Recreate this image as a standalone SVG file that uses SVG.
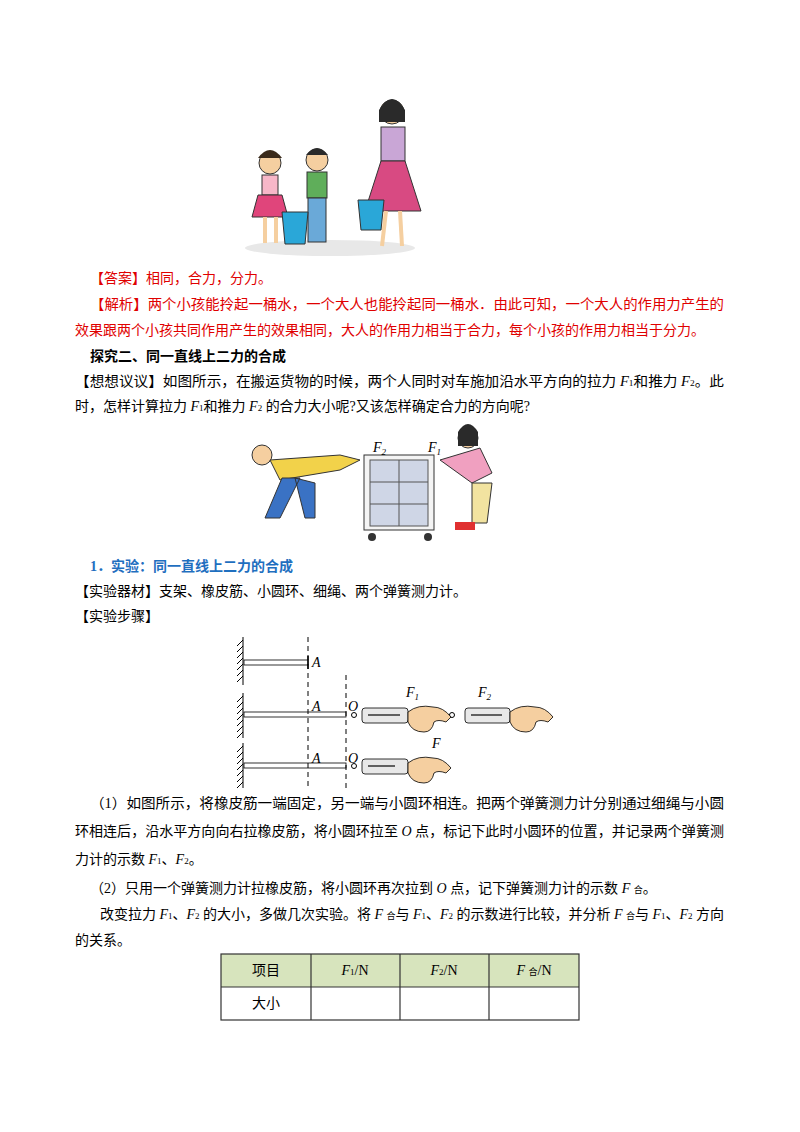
<svg xmlns="http://www.w3.org/2000/svg" width="800" height="1132" viewBox="0 0 800 1132">
<style>
.t{font-family:"Liberation Serif","Noto Sans CJK SC",serif;font-size:14px;fill:#000}
.r{fill:#e00000}
.b{font-weight:bold}
.bl{fill:#1f6fbf;font-weight:bold}
.i{font-style:italic}
.ln{stroke:#000;stroke-width:1;fill:none}
.d{stroke:#000;stroke-width:1;stroke-dasharray:5,4}
.h{stroke:#000;stroke-width:1}
.sc{fill:#e8e8e8;stroke:#000;stroke-width:0.8}
.hand{fill:#f5cfa0;stroke:#000;stroke-width:0.8}
.tb{stroke:#333;stroke-width:1.2;fill:none}
</style>
<rect width="800" height="1132" fill="#fff"/>
<g id="picture-people">
<ellipse cx="330" cy="248" rx="85" ry="8" fill="#e8e8e8"/>
<circle cx="270" cy="163" r="11" fill="#f5cfa0" stroke="#333"/>
<path d="M258 158 q12 -16 24 0" fill="#3a2a1a"/>
<rect x="262" y="175" width="16" height="20" fill="#f7b7c8" stroke="#333"/>
<path d="M258 195 h24 l6 22 h-36z" fill="#e0457b" stroke="#333"/>
<line x1="265" y1="217" x2="265" y2="243" stroke="#f5cfa0" stroke-width="4"/>
<line x1="276" y1="217" x2="276" y2="243" stroke="#f5cfa0" stroke-width="4"/>
<circle cx="317" cy="160" r="11" fill="#f5cfa0" stroke="#333"/>
<path d="M306 155 q11 -14 22 0" fill="#2a2a2a"/>
<rect x="307" y="172" width="20" height="26" fill="#5fae5a" stroke="#333"/>
<rect x="308" y="198" width="18" height="44" fill="#6aa9d8" stroke="#333"/>
<path d="M282 212 h26 l-3 32 h-20z" fill="#2aa7d8" stroke="#333"/>
<circle cx="392" cy="112" r="12" fill="#f5cfa0" stroke="#333"/>
<path d="M379 110 q13 -22 26 0 v12 h-26z" fill="#2a2a2a"/>
<rect x="381" y="127" width="24" height="34" fill="#c9a6d6" stroke="#333"/>
<path d="M381 161 h24 l16 50 h-56z" fill="#d84a82" stroke="#333"/>
<line x1="386" y1="211" x2="382" y2="246" stroke="#f5cfa0" stroke-width="4"/>
<line x1="400" y1="211" x2="402" y2="246" stroke="#f5cfa0" stroke-width="4"/>
<path d="M358 200 h26 l-3 30 h-20z" fill="#2aa7d8" stroke="#333"/>
</g>
<g id="text-top">
<text class="t r" x="90" y="283">【答案】相同，合力，分力。</text>
<text class="t r" x="90" y="309" textLength="634" lengthAdjust="spacingAndGlyphs">【解析】两个小孩能拎起一桶水，一个大人也能拎起同一桶水．由此可知，一个大人的作用力产生的</text>
<text class="t r" x="75" y="335">效果跟两个小孩共同作用产生的效果相同，大人的作用力相当于合力，每个小孩的作用力相当于分力。</text>
<text class="t b" x="90" y="361">探究二、同一直线上二力的合成</text>
<text class="t" x="75" y="386" textLength="649" lengthAdjust="spacingAndGlyphs">【想想议议】如图所示，在搬运货物的时候，两个人同时对车施加沿水平方向的拉力 <tspan class="i">F</tspan><tspan font-size="9">1</tspan>和推力 <tspan class="i">F</tspan><tspan font-size="9">2</tspan>。此</text>
<text class="t" x="75" y="411">时，怎样计算拉力 <tspan class="i">F</tspan><tspan font-size="9">1</tspan>和推力 <tspan class="i">F</tspan><tspan font-size="9">2</tspan> 的合力大小呢?又该怎样确定合力的方向呢?</text>
</g>
<g id="picture-cart">
<rect x="364" y="455" width="70" height="75" fill="#f4f4f4" stroke="#333"/>
<rect x="370" y="460" width="58" height="66" fill="#cfd6e6" stroke="#555"/>
<line x1="370" y1="482" x2="428" y2="482" stroke="#555"/><line x1="370" y1="504" x2="428" y2="504" stroke="#555"/>
<line x1="399" y1="460" x2="399" y2="526" stroke="#555"/>
<circle cx="372" cy="537" r="4" fill="#333"/><circle cx="428" cy="537" r="4" fill="#333"/>
<text class="t i" x="373" y="452">F<tspan font-size="9" dy="3">2</tspan></text>
<text class="t i" x="428" y="452">F<tspan font-size="9" dy="3">1</tspan></text>
<circle cx="262" cy="455" r="10" fill="#f5cfa0" stroke="#333"/>
<path d="M270 460 l70 -5 l20 5 l-20 10 l-60 10z" fill="#f2d24a" stroke="#333"/>
<path d="M282 478 l18 0 l-20 40 l-15 0z M295 478 l20 5 l0 35 l-10 0z" fill="#3a72c4" stroke="#333"/>
<circle cx="468" cy="438" r="10" fill="#f5cfa0" stroke="#333"/>
<path d="M458 432 q10 -16 20 0 v14 h-20z" fill="#2a2a2a"/>
<path d="M440 460 l40 -12 l12 25 l-20 10z" fill="#f0a0c0" stroke="#333"/>
<path d="M472 483 l20 0 l-5 40 l-15 0z" fill="#f2e3a0" stroke="#333"/>
<rect x="455" y="522" width="20" height="8" fill="#e03030"/>
</g>
<g id="text-mid">
<text class="t bl" x="90" y="571" font-family="Liberation Sans,Noto Sans CJK SC,sans-serif">1．实验：同一直线上二力的合成</text>
<text class="t" x="75" y="596">【实验器材】支架、橡皮筋、小圆环、细绳、两个弹簧测力计。</text>
<text class="t" x="75" y="621">【实验步骤】</text>
</g>
<g id="experiment">
<g class="h">
<line x1="243" y1="637" x2="243" y2="685"/><line x1="243" y1="693" x2="243" y2="738"/><line x1="243" y1="743" x2="243" y2="788"/>
<path d="M243 640 l-6 6 M243 646 l-6 6 M243 652 l-6 6 M243 658 l-6 6 M243 664 l-6 6 M243 670 l-6 6 M243 676 l-6 6 M243 696 l-6 6 M243 702 l-6 6 M243 708 l-6 6 M243 714 l-6 6 M243 720 l-6 6 M243 726 l-6 6 M243 732 l-6 6 M243 746 l-6 6 M243 752 l-6 6 M243 758 l-6 6 M243 764 l-6 6 M243 770 l-6 6 M243 776 l-6 6 M243 782 l-6 6"/>
</g>
<rect x="244" y="660" width="64" height="5" fill="#fff" stroke="#000" stroke-width="0.8"/>
<line x1="308" y1="656" x2="308" y2="669" stroke="#000" stroke-width="1.5"/>
<rect x="244" y="712" width="102" height="5" fill="#fff" stroke="#000" stroke-width="0.8"/>
<rect x="244" y="763" width="102" height="5" fill="#fff" stroke="#000" stroke-width="0.8"/>
<line class="d" x1="308" y1="637" x2="308" y2="790"/>
<line class="d" x1="346" y1="675" x2="346" y2="790"/>
<text class="t i" x="312" y="667">A</text><text class="t i" x="312" y="711">A</text><text class="t i" x="312" y="763">A</text>
<text class="t i" x="348" y="711">O</text><text class="t i" x="348" y="763">O</text>
<text class="t i" x="406" y="697">F<tspan font-size="9" dy="3">1</tspan></text>
<text class="t i" x="478" y="697">F<tspan font-size="9" dy="3">2</tspan></text>
<text class="t i" x="432" y="748">F</text>
<circle cx="354" cy="715" r="2.5" class="ln"/><circle cx="354" cy="766" r="2.5" class="ln"/>
<circle cx="452" cy="715" r="2.5" class="ln"/>
<rect x="362" y="708" width="46" height="15" rx="3" class="sc"/>
<rect x="465" y="708" width="45" height="15" rx="3" class="sc"/>
<rect x="362" y="759" width="46" height="15" rx="3" class="sc"/>
<line x1="368" y1="715" x2="400" y2="715" stroke="#333" stroke-width="1.5"/>
<line x1="471" y1="715" x2="502" y2="715" stroke="#333" stroke-width="1.5"/>
<line x1="368" y1="766" x2="395" y2="766" stroke="#333" stroke-width="1.5"/>
<line x1="408" y1="715" x2="450" y2="715" class="ln"/>
<path class="hand" d="M408 712 q10 -8 25 -5 q10 0 18 10 l-5 5 q-8 -3 -12 0 q-2 10 -10 10 q-12 0 -16 -10z"/>
<path class="hand" d="M510 712 q10 -8 25 -5 q10 0 18 10 l-5 5 q-8 -3 -12 0 q-2 10 -10 10 q-12 0 -16 -10z"/>
<path class="hand" d="M408 763 q10 -8 25 -5 q10 0 18 10 l-5 5 q-8 -3 -12 0 q-2 10 -10 10 q-12 0 -16 -10z"/>
</g>
<g id="text-steps">
<text class="t" x="90" y="808" textLength="634" lengthAdjust="spacingAndGlyphs">（1）如图所示，将橡皮筋一端固定，另一端与小圆环相连。把两个弹簧测力计分别通过细绳与小圆</text>
<text class="t" x="75" y="836" textLength="649" lengthAdjust="spacingAndGlyphs">环相连后，沿水平方向向右拉橡皮筋，将小圆环拉至 <tspan class="i">O</tspan> 点，标记下此时小圆环的位置，并记录两个弹簧测</text>
<text class="t" x="75" y="864">力计的示数 <tspan class="i">F</tspan><tspan font-size="9">1</tspan>、<tspan class="i">F</tspan><tspan font-size="9">2</tspan>。</text>
<text class="t" x="90" y="893">（2）只用一个弹簧测力计拉橡皮筋，将小圆环再次拉到 <tspan class="i">O</tspan> 点，记下弹簧测力计的示数 <tspan class="i">F</tspan> <tspan font-size="9">合</tspan>。</text>
<text class="t" x="100" y="919" textLength="624" lengthAdjust="spacingAndGlyphs">改变拉力 <tspan class="i">F</tspan><tspan font-size="9">1</tspan>、<tspan class="i">F</tspan><tspan font-size="9">2</tspan> 的大小，多做几次实验。将 <tspan class="i">F</tspan> <tspan font-size="9">合</tspan>与 <tspan class="i">F</tspan><tspan font-size="9">1</tspan>、<tspan class="i">F</tspan><tspan font-size="9">2</tspan> 的示数进行比较，并分析 <tspan class="i">F</tspan> <tspan font-size="9">合</tspan>与 <tspan class="i">F</tspan><tspan font-size="9">1</tspan>、<tspan class="i">F</tspan><tspan font-size="9">2</tspan> 方向</text>
<text class="t" x="75" y="945">的关系。</text>
</g>
<g id="table">
<rect x="221" y="954" width="358" height="33" fill="#d7e4bd"/>
<rect x="221" y="954" width="358" height="66" class="tb"/>
<line x1="221" y1="987" x2="579" y2="987" class="tb"/>
<line x1="311" y1="954" x2="311" y2="1020" class="tb"/>
<line x1="400" y1="954" x2="400" y2="1020" class="tb"/>
<line x1="489" y1="954" x2="489" y2="1020" class="tb"/>
<text class="t" x="266" y="975" text-anchor="middle">项目</text>
<text class="t" x="266" y="1008" text-anchor="middle">大小</text>
<text class="t" x="355" y="975" text-anchor="middle"><tspan class="i">F</tspan><tspan font-size="9">1</tspan>/N</text>
<text class="t" x="444" y="975" text-anchor="middle"><tspan class="i">F</tspan><tspan font-size="9">2</tspan>/N</text>
<text class="t" x="534" y="975" text-anchor="middle"><tspan class="i">F</tspan> <tspan font-size="9">合</tspan>/N</text>
</g>
</svg>
